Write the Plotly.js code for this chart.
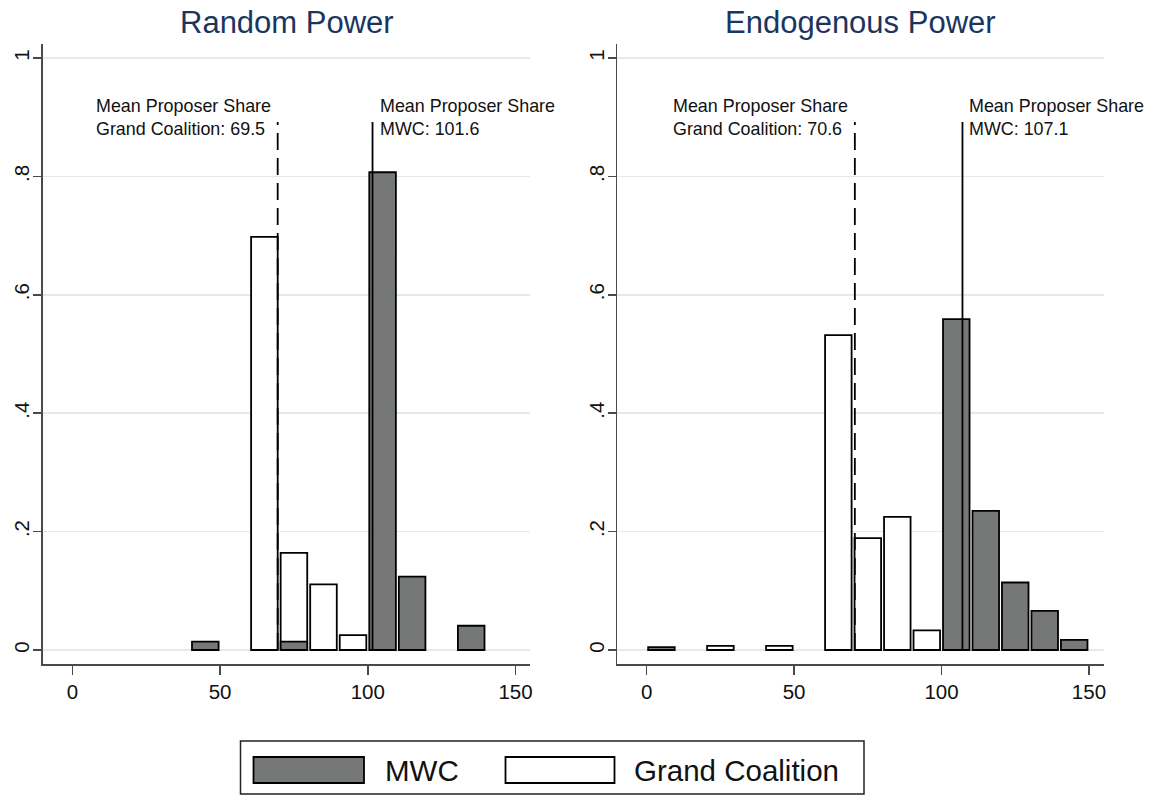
<!DOCTYPE html>
<html>
<head>
<meta charset="utf-8">
<script src="https://cdn.plot.ly/plotly-3.0.1.min.js"></script>
<style>html,body{margin:0;padding:0;background:#fff;}#chart{width:1153px;height:795px;}</style>
</head>
<body>
<div id="chart"></div>
<script>
// ---- Data (fractions per bin of width 10; x = bin centers) ----
const panelTitles = ["Random Power", "Endogenous Power"];
const seriesNames = ["MWC", "Grand Coalition"];

const randomMWC_x = [45, 75, 105, 115, 135];
const randomMWC_y = [0.014, 0.014, 0.807, 0.124, 0.041];
const randomGC_x = [65, 75, 85, 95];
const randomGC_y = [0.698, 0.164, 0.111, 0.025];

const endoMWC_x = [5, 105, 115, 125, 135, 145];
const endoMWC_y = [0.005, 0.559, 0.235, 0.114, 0.066, 0.017];
const endoGC_x = [25, 45, 65, 75, 85, 95];
const endoGC_y = [0.007, 0.007, 0.532, 0.189, 0.225, 0.033];

const meanGC = [69.5, 70.6];
const meanMWC = [101.6, 107.1];

const xTicks = [0, 50, 100, 150];
const yTicks = [0, 0.2, 0.4, 0.6, 0.8, 1];
const yTickText = ["0", ".2", ".4", ".6", ".8", "1"];

// ---- Styles ----
const FONT = '"Liberation Sans", Arial, Helvetica, sans-serif';
const GRAY = '#767878';
const AXC = '#4a4a4a';
const W = 1153, H = 795;
const lineTop = 0.892;

function barTrace(x, y, fill, xa, ya) {
  return {type: 'bar', x: x, y: y, width: 9, xaxis: xa, yaxis: ya,
    marker: {color: fill, line: {color: '#000', width: 1.8}},
    showlegend: false, hoverinfo: 'x+y'};
}
function vline(m, dash, xa, ya) {
  return {type: 'scatter', mode: 'lines', x: [m, m], y: [0, lineTop], xaxis: xa, yaxis: ya,
    line: {color: '#000', width: 1.8, dash: dash}, showlegend: false, hoverinfo: 'skip'};
}

const data = [
  barTrace(randomGC_x, randomGC_y, '#ffffff', 'x', 'y'),
  barTrace(randomMWC_x, randomMWC_y, GRAY, 'x', 'y'),
  barTrace(endoGC_x, endoGC_y, '#ffffff', 'x2', 'y2'),
  barTrace(endoMWC_x, endoMWC_y, GRAY, 'x2', 'y2'),
  vline(meanGC[0], '17px,8px', 'x', 'y'),
  vline(meanMWC[0], 'solid', 'x', 'y'),
  vline(meanGC[1], '17px,8px', 'x2', 'y2'),
  vline(meanMWC[1], 'solid', 'x2', 'y2')
];

const yDom = [(H - 664) / H, (H - 44) / H];
const yRange = [-14 / 592, 606 / 592];

function xAxis(d, anchor) {
  return {domain: d, anchor: anchor, range: [-10, 155], showline: true, linecolor: AXC, linewidth: 1.5,
    ticks: 'outside', ticklen: 9, tickwidth: 1.5, tickcolor: AXC, tickvals: xTicks,
    tickfont: {family: FONT, size: 20.5, color: '#111'}, showgrid: false, zeroline: false, fixedrange: true};
}
function yAxis(anchor) {
  return {domain: yDom, anchor: anchor, range: yRange, showline: true, linecolor: AXC, linewidth: 1.5,
    ticks: 'outside', ticklen: 8, tickwidth: 1.5, tickcolor: AXC, tickvals: yTicks, ticktext: yTickText,
    tickangle: -90, tickfont: {family: FONT, size: 20.5, color: '#111'}, ticklabelstandoff: -4,
    showgrid: true, gridcolor: '#e1ebed', gridwidth: 1.5, zeroline: false, fixedrange: true};
}

const annFont = {family: FONT, size: 17.9, color: '#111'};
const annotations = [];
const xrefs = ['x', 'x2'];
for (let i = 0; i < 2; i++) {
  annotations.push({xref: xrefs[i], yref: 'y' + (i ? '2' : ''), x: meanGC[i], y: 0.9,
    xanchor: 'right', yanchor: 'middle', xshift: -5, align: 'left', showarrow: false,
    text: 'Mean Proposer Share<br>Grand Coalition: ' + meanGC[i].toFixed(1), font: annFont});
  annotations.push({xref: xrefs[i], yref: 'y' + (i ? '2' : ''), x: meanMWC[i], y: 0.9,
    xanchor: 'left', yanchor: 'middle', xshift: 5, align: 'left', showarrow: false,
    text: 'Mean Proposer Share<br>MWC: ' + meanMWC[i].toFixed(1), font: annFont});
}
// Panel titles
const titleX = [(42.8 + 530.3) / 2 / W, (617.2 + 1103.7) / 2 / W];
for (let i = 0; i < 2; i++) {
  annotations.push({xref: 'paper', yref: 'paper', x: titleX[i], y: 1 - 23 / H, xanchor: 'center', yanchor: 'middle',
    showarrow: false, text: panelTitles[i], font: {family: FONT, size: 31, color: '#1b355e'}});
}
// Legend (manual)
const py = v => 1 - v / H, px = v => v / W;
const shapes = [
  {type: 'rect', xref: 'paper', yref: 'paper', x0: px(240.5), x1: px(864), y0: py(794), y1: py(741),
    line: {color: '#222', width: 1.5}, fillcolor: '#fff'},
  {type: 'rect', xref: 'paper', yref: 'paper', x0: px(253.5), x1: px(364), y0: py(783), y1: py(757),
    line: {color: '#000', width: 1.8}, fillcolor: GRAY},
  {type: 'rect', xref: 'paper', yref: 'paper', x0: px(505.5), x1: px(614.5), y0: py(783), y1: py(757),
    line: {color: '#000', width: 1.8}, fillcolor: '#fff'}
];
annotations.push({xref: 'paper', yref: 'paper', x: px(383), y: py(770), xanchor: 'left', yanchor: 'middle',
  showarrow: false, text: seriesNames[0], font: {family: FONT, size: 29.5, color: '#111'}});
annotations.push({xref: 'paper', yref: 'paper', x: px(632), y: py(770), xanchor: 'left', yanchor: 'middle',
  showarrow: false, text: seriesNames[1], font: {family: FONT, size: 29.5, color: '#111'}});

const layout = {
  width: W, height: H, margin: {l: 0, r: 0, t: 0, b: 0},
  paper_bgcolor: '#fff', plot_bgcolor: '#fff', barmode: 'overlay', showlegend: false,
  xaxis: xAxis([42.8 / W, 530.3 / W], 'y'),
  yaxis: yAxis('x'),
  xaxis2: xAxis([617.2 / W, 1103.7 / W], 'y2'),
  yaxis2: yAxis('x2'),
  annotations: annotations, shapes: shapes,
  font: {family: FONT}
};

Plotly.newPlot('chart', data, layout, {displayModeBar: false, staticPlot: true});
</script>
</body>
</html>
